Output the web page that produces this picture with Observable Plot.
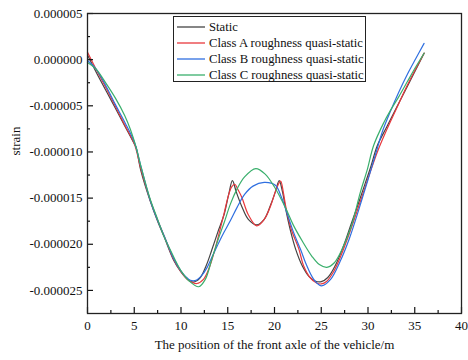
<!DOCTYPE html>
<html>
<head>
<meta charset="utf-8">
<script src="https://cdn.jsdelivr.net/npm/d3@7"></script>
<script src="https://cdn.jsdelivr.net/npm/@observablehq/plot@0.6"></script>
<style>
  body { margin: 0; background: #fff; }
  #wrap { position: relative; width: 468px; height: 360px; font-family: "Liberation Serif", "Times New Roman", serif; }
  #wrap svg text { font-family: "Liberation Serif", "Times New Roman", serif; }
  #legend { position: absolute; left: 173px; top: 16px; width: 193px; height: 66px; border: 1.3px solid #222; background: #fff; box-sizing: border-box; font-size: 12.7px; color: #111; }
  .item { position: absolute; left: 2px; height: 16px; line-height: 16px; white-space: nowrap; }
  .item svg { position: absolute; left: 0; top: 0; }
  .item span { position: absolute; left: 33px; top: 0; }
</style>
</head>
<body>
<div id="wrap"></div>
<script>
// ---- data (x in m, strain values) ----
const seriesNames = ["Static", "Class A roughness quasi-static", "Class B roughness quasi-static", "Class C roughness quasi-static"];
const seriesColors = ["#444444", "#e8383d", "#2f6fe0", "#3aaf6c"];

const staticX = [0, 1, 2, 3, 4, 5, 5.2, 5.7, 6.7, 7.5, 8.2, 9.2, 10, 10.7, 11.3, 12, 12.7, 13.3, 14, 14.6, 15.1, 15.5, 15.9, 16.5, 17.2, 18.1, 18.9, 19.6, 20.1, 20.5, 20.85, 21.2, 21.7, 22.25, 22.95, 23.7, 24.4, 25, 25.7, 26.5, 27.3, 28.2, 29, 29.7, 30.3, 31, 32, 33, 34, 35, 36];
const staticY = [0.5e-6, -1.5e-6, -3.4e-6, -5.3e-6, -7.2e-6, -9.1e-6, -9.5e-6, -12.0e-6, -15.3e-6, -17.5e-6, -19.2e-6, -21.7e-6, -23.0e-6, -23.8e-6, -24.1e-6, -23.7e-6, -22.3e-6, -20.6e-6, -18.5e-6, -16.8e-6, -14.6e-6, -13.1e-6, -14.3e-6, -15.9e-6, -17.3e-6, -17.9e-6, -17.3e-6, -15.7e-6, -14.3e-6, -13.1e-6, -14.3e-6, -16.2e-6, -18.5e-6, -20.5e-6, -22.3e-6, -23.5e-6, -24.0e-6, -24.05e-6, -23.6e-6, -22.3e-6, -20.4e-6, -17.8e-6, -15.5e-6, -13.4e-6, -11.6e-6, -9.3e-6, -7.3e-6, -5.3e-6, -3.3e-6, -1.3e-6, 0.7e-6];

const classAX = [0, 1, 2, 3, 4, 5, 5.7, 6.7, 7.5, 8.2, 9.2, 10, 10.8, 11.7, 12.4, 13, 13.7, 14.2, 14.6, 15.0, 15.4, 15.75, 16.1, 16.5, 17.2, 18.1, 18.9, 19.6, 20.2, 20.65, 20.95, 21.2, 21.8, 22.6, 23.1, 23.8, 24.5, 25, 25.6, 26.3, 27, 27.8, 28.7, 29.5, 30.3, 31, 32, 33, 34, 35, 36];
const classAY = [0.8e-6, -1.2e-6, -3.1e-6, -5.1e-6, -7.1e-6, -9.1e-6, -11.8e-6, -15.2e-6, -17.4e-6, -19.1e-6, -21.6e-6, -23.0e-6, -23.9e-6, -24.25e-6, -23.8e-6, -22.6e-6, -20.3e-6, -18.3e-6, -16.7e-6, -15.0e-6, -13.8e-6, -13.5e-6, -14.1e-6, -14.9e-6, -16.8e-6, -18.0e-6, -17.3e-6, -15.8e-6, -14.0e-6, -13.15e-6, -14.4e-6, -15.9e-6, -18.4e-6, -20.5e-6, -22.3e-6, -23.6e-6, -24.2e-6, -24.3e-6, -24.0e-6, -23.0e-6, -21.5e-6, -19.4e-6, -16.8e-6, -14.4e-6, -12.0e-6, -10.0e-6, -7.6e-6, -5.4e-6, -3.2e-6, -1.2e-6, 0.7e-6];

const classBX = [0, 0.9, 2, 3, 4, 5, 5.7, 6.7, 7.5, 8.2, 9.2, 10, 10.5, 11.0, 11.6, 12.2, 12.8, 13.4, 14.05, 14.6, 15.3, 16.0, 16.8, 17.7, 18.9, 20.1, 20.7, 21.2, 22.0, 22.8, 23.4, 24.2, 25, 26, 27, 28, 29, 30, 31, 31.5, 32.4, 33.3, 34.2, 35.1, 36];
const classBY = [-0.1e-6, -1.0e-6, -2.9e-6, -4.9e-6, -6.8e-6, -8.9e-6, -11.5e-6, -15.2e-6, -17.4e-6, -19.1e-6, -21.5e-6, -22.9e-6, -23.5e-6, -23.9e-6, -23.9e-6, -23.4e-6, -22.5e-6, -21.2e-6, -19.8e-6, -18.7e-6, -17.4e-6, -16.0e-6, -14.6e-6, -13.7e-6, -13.3e-6, -13.6e-6, -14.8e-6, -16.2e-6, -18.6e-6, -20.6e-6, -22.2e-6, -23.8e-6, -24.5e-6, -23.8e-6, -21.9e-6, -19.4e-6, -16.3e-6, -13.0e-6, -9.6e-6, -7.9e-6, -5.6e-6, -3.5e-6, -1.6e-6, 0.1e-6, 1.76e-6];

const classCX = [0, 0.9, 2, 3, 4, 4.6, 5.2, 5.7, 6.7, 7.5, 8.2, 8.9, 9.95, 10.9, 11.9, 12.6, 13.3, 14.0, 14.6, 15.3, 16, 16.8, 18, 19, 20, 21.2, 22, 23, 24, 24.8, 25.6, 26.4, 27.2, 28.2, 29.2, 29.9, 30.6, 31.7, 32.4, 33.3, 34.2, 35.1, 36];
const classCY = [-0.3e-6, -1.0e-6, -2.6e-6, -4.2e-6, -6.1e-6, -7.6e-6, -9.5e-6, -11.5e-6, -15.1e-6, -17.3e-6, -19.2e-6, -20.7e-6, -22.8e-6, -24.0e-6, -24.6e-6, -23.8e-6, -21.6e-6, -19.4e-6, -17.7e-6, -15.6e-6, -14.0e-6, -12.7e-6, -11.8e-6, -12.4e-6, -13.8e-6, -16.1e-6, -17.9e-6, -19.7e-6, -21.3e-6, -22.2e-6, -22.5e-6, -22.0e-6, -20.6e-6, -18.1e-6, -14.3e-6, -12.0e-6, -9.3e-6, -6.8e-6, -5.5e-6, -4.0e-6, -2.4e-6, -0.8e-6, 0.7e-6];

const xTicks = [0, 5, 10, 15, 20, 25, 30, 35, 40];
const xMinor = [2.5, 7.5, 12.5, 17.5, 22.5, 27.5, 32.5, 37.5];
const yTicks = [5e-6, 0, -5e-6, -10e-6, -15e-6, -20e-6, -25e-6];
const yMinor = [2.5e-6, -2.5e-6, -7.5e-6, -12.5e-6, -17.5e-6, -22.5e-6];
const xLabel = "The position of the front axle of the vehicle/m";
const yLabel = "strain";

// ---- build table ----
const allX = [staticX, classAX, classBX, classCX];
const allY = [staticY, classAY, classBY, classCY];
const rows = [];
allX.forEach((xs, i) => xs.forEach((x, j) => rows.push({series: seriesNames[i], x, y: allY[i][j]})));

const font = "Liberation Serif, Times New Roman, serif";
const chart = Plot.plot({
  width: 468,
  height: 360,
  marginLeft: 87,
  marginRight: 7,
  marginTop: 13,
  marginBottom: 47,
  style: {fontFamily: font, fontSize: "13px", color: "#111", background: "#fff"},
  x: {domain: [0, 40]},
  y: {domain: [-27.5e-6, 5e-6]},
  color: {domain: seriesNames, range: seriesColors},
  marks: [
    Plot.line(rows, {x: "x", y: "y", z: "series", stroke: "series", strokeWidth: 1.2, curve: "catmull-rom"}),
    Plot.axisX({ticks: xTicks, tickSize: -6, tickPadding: 13, tickFormat: d => String(d), label: null, stroke: "#111", strokeWidth: 1.2, fontSize: 13, fontFamily: font}),
    Plot.axisX({ticks: xMinor, tickSize: -3, tickFormat: () => "", label: null, stroke: "#111", strokeWidth: 1.2}),
    Plot.axisY({ticks: yTicks, tickSize: -6, tickPadding: 11, tickFormat: d => d.toFixed(6), label: null, stroke: "#111", strokeWidth: 1.2, fontSize: 13, fontFamily: font}),
    Plot.axisY({ticks: yMinor, tickSize: -3, tickFormat: () => "", label: null, stroke: "#111", strokeWidth: 1.2}),
    Plot.frame({stroke: "#222", strokeWidth: 1.3}),
    Plot.text([xLabel], {frameAnchor: "bottom", dy: 35, fontSize: 13, fill: "#111", fontFamily: font}),
    Plot.text([yLabel], {frameAnchor: "left", dx: -72, dy: -8, rotate: -90, fontSize: 13, fill: "#111", fontFamily: font})
  ]
});
const wrap = document.getElementById("wrap");
wrap.appendChild(chart);

// ---- legend ----
const legend = document.createElement("div");
legend.id = "legend";
seriesNames.forEach((name, i) => {
  const item = document.createElement("div");
  item.className = "item";
  item.style.top = (2 + i * 16) + "px";
  item.innerHTML = `<svg width="30" height="16"><line x1="1" x2="29" y1="8" y2="8" stroke="${seriesColors[i]}" stroke-width="1.3"/></svg><span>${name}</span>`;
  legend.appendChild(item);
});
wrap.appendChild(legend);
</script>
</body>
</html>
